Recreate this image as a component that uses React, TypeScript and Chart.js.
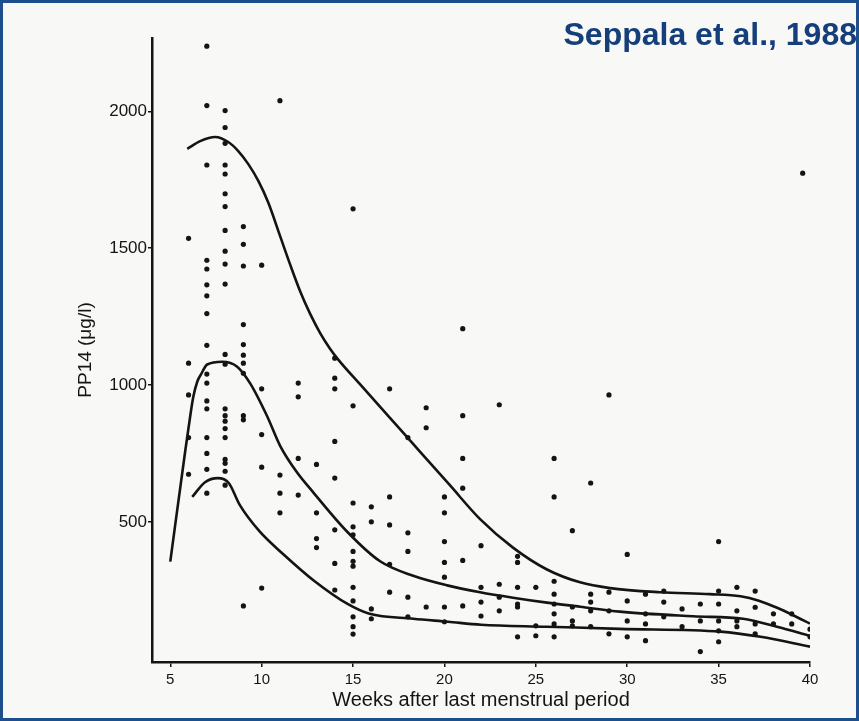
import React, { useEffect, useRef } from 'react';
import { Chart, registerables } from 'chart.js';

Chart.register(...registerables);

const titleText = 'Seppala et al., 1988';
const xAxisTitle = 'Weeks after last menstrual period';
const yAxisTitle = 'PP14 (μg/l)';
const xTicks = [5, 10, 15, 20, 25, 30, 35, 40];
const yTicks = [500, 1000, 1500, 2000];

// Fitted reference curves (upper, middle, lower)
const upperWeeks = [5.93, 6.64, 7.46, 8.17, 8.72, 9.26, 9.81, 10.36, 11.01, 11.56, 12.11, 12.66, 13.2, 13.75, 14.19, 15.39, 17.03, 18.67, 20.31, 21.95, 23.75, 25.61, 27.42, 29.06, 31.79, 34.52, 36.2, 37.2, 38.2, 39.1, 40];
const upperValues = [1863, 1891, 1906, 1888, 1855, 1808, 1747, 1667, 1544, 1440, 1342, 1259, 1190, 1132, 1093, 1002, 879, 756, 633, 510, 406, 326, 279, 258, 243, 236, 228, 212, 186, 158, 128];

const middleWeeks = [5.0, 5.82, 6.09, 6.26, 6.48, 6.69, 7.02, 7.84, 8.66, 9.37, 10.3, 11.01, 11.94, 12.82, 14.68, 16.48, 18.29, 20.15, 21.95, 23.75, 25.61, 27.42, 29.6, 33.6, 36.33, 38.19, 40];
const middleValues = [355, 760, 886, 957, 1013, 1040, 1075, 1085, 1067, 1006, 886, 778, 680, 608, 464, 356, 303, 268, 243, 223, 205, 190, 172, 155, 146, 117, 84];

const lowerWeeks = [6.2, 6.9, 7.6, 8.2, 8.8, 9.9, 11.2, 12.9, 14.7, 15.9, 18.3, 20.2, 22.0, 25.6, 29.6, 35.1, 37.3, 40];
const lowerValues = [591, 645, 660, 642, 562, 464, 381, 283, 200, 164, 146, 135, 124, 117, 109, 99, 80, 44];

// Individual measurements, grouped by week
const sampleWeeks = [6, 7, 8, 9, 10, 11, 12, 13, 14, 15, 16, 17, 18, 19, 20, 21, 22, 23, 24, 25, 26, 27, 28, 29, 30, 31, 32, 33, 34, 35, 36, 37, 38, 39, 39.6, 40];
const sampleValues: number[][] = [
  [1536, 1080, 964, 808, 674],
  [2238, 2021, 1804, 1456, 1424, 1366, 1326, 1261, 1145, 1040, 1007, 942, 913, 808, 750, 692, 605],
  [2003, 1941, 1883, 1804, 1771, 1699, 1652, 1565, 1489, 1442, 1369, 1112, 1076, 913, 888, 868, 841, 808, 728, 714, 685, 634],
  [1579, 1514, 1435, 1221, 1148, 1109, 1080, 1043, 888, 873, 193],
  [1438, 986, 819, 700, 258],
  [2039, 671, 605, 533],
  [1007, 957, 732, 598],
  [710, 533, 439, 406],
  [1098, 1025, 986, 794, 660, 471, 348, 251],
  [1644, 924, 569, 482, 453, 392, 356, 338, 261, 211, 153, 117, 90],
  [555, 500, 182, 146],
  [986, 591, 489, 345, 243],
  [808, 460, 392, 225, 153],
  [917, 844, 189],
  [591, 533, 428, 352, 298, 189, 135],
  [1206, 888, 732, 623, 359, 193],
  [413, 261, 207, 156],
  [928, 272, 225, 175],
  [374, 352, 261, 200, 189, 80],
  [261, 120, 84],
  [732, 591, 283, 236, 200, 164, 127, 80],
  [468, 189, 138, 120],
  [642, 236, 207, 175, 117],
  [964, 243, 175, 91],
  [381, 211, 138, 80],
  [236, 164, 127, 66],
  [247, 207, 153],
  [182, 117],
  [200, 138, 26],
  [428, 247, 200, 138, 102, 62],
  [261, 175, 138, 117],
  [247, 188, 127, 91],
  [164, 127],
  [164, 127],
  [1774],
  [108, 80],
];

const FONT = "'Liberation Sans', Arial, Helvetica, sans-serif";
const INK = '#141414';

export default function App() {
  const ref = useRef<HTMLCanvasElement>(null);

  useEffect(() => {
    const toXY = (ws: number[], vs: number[]) => ws.map((w, i) => ({ x: w, y: vs[i] }));
    const points = sampleWeeks.flatMap((w, i) => sampleValues[i].map((v) => ({ x: w, y: v })));

    const framePlugin = {
      id: 'frame',
      beforeDraw(chart: any) {
        const { ctx, width, height } = chart;
        ctx.save();
        ctx.fillStyle = '#f8f8f6';
        ctx.fillRect(0, 0, width, height);
        ctx.restore();
      },
      afterDraw(chart: any) {
        const { ctx, width, height } = chart;
        ctx.save();
        ctx.strokeStyle = '#1d4f8c';
        ctx.lineWidth = 3;
        ctx.strokeRect(1.5, 1.5, width - 3, height - 3);
        ctx.fillStyle = '#143f7a';
        ctx.font = `bold 32px ${FONT}`;
        ctx.textAlign = 'right';
        ctx.textBaseline = 'alphabetic';
        ctx.fillText(titleText, 857, 45);
        ctx.restore();
      },
    };

    const curve = (ws: number[], vs: number[]) => ({
      data: toXY(ws, vs),
      showLine: true,
      pointRadius: 0,
      borderColor: INK,
      borderWidth: 2.6,
      cubicInterpolationMode: 'monotone' as const,
      fill: false,
    });

    const chart = new Chart(ref.current as HTMLCanvasElement, {
      type: 'scatter',
      data: {
        datasets: [
          curve(upperWeeks, upperValues),
          curve(middleWeeks, middleValues),
          curve(lowerWeeks, lowerValues),
          {
            data: points,
            pointRadius: 2.6,
            pointBackgroundColor: INK,
            pointBorderWidth: 0,
            showLine: false,
          } as any,
        ],
      },
      options: {
        animation: false,
        responsive: false,
        devicePixelRatio: 1,
        layout: { padding: { top: 38, right: 49, left: 0, bottom: 0 } },
        plugins: { legend: { display: false }, tooltip: { enabled: false } },
        scales: {
          x: {
            type: 'linear',
            min: 4,
            max: 40,
            afterBuildTicks: (s: any) => {
              s.ticks = xTicks.map((v) => ({ value: v }));
            },
            afterFit: (s: any) => {
              s.height = 59;
            },
            grid: { drawOnChartArea: false, drawTicks: true, tickLength: 5, color: INK, lineWidth: 1.5 },
            border: { display: true, color: INK, width: 2.5 },
            ticks: { color: INK, font: { family: FONT, size: 15 }, padding: 4, maxRotation: 0, autoSkip: false, callback: (v: any) => String(v) },
            title: { display: true, text: xAxisTitle, color: INK, font: { family: FONT, size: 20 }, padding: { top: 0, bottom: 9 } },
          },
          y: {
            type: 'linear',
            min: -12,
            max: 2268,
            afterBuildTicks: (s: any) => {
              s.ticks = yTicks.map((v) => ({ value: v }));
            },
            afterFit: (s: any) => {
              s.width = 152;
            },
            grid: { drawOnChartArea: false, drawTicks: true, tickLength: 4, color: INK, lineWidth: 1.5 },
            border: { display: true, color: INK, width: 2.5 },
            ticks: { color: INK, font: { family: FONT, size: 17 }, padding: 1, autoSkip: false, callback: (v: any) => String(v) },
            title: { display: true, text: yAxisTitle, color: INK, font: { family: FONT, size: 19 }, padding: { top: 74, bottom: 0 } },
          },
        },
      } as any,
      plugins: [framePlugin],
    });

    return () => chart.destroy();
  }, []);

  return (
    <div style={{ position: 'fixed', left: 0, top: 0, width: 859, height: 721 }}>
      <canvas ref={ref} width={859} height={721} style={{ display: 'block' }} />
    </div>
  );
}
